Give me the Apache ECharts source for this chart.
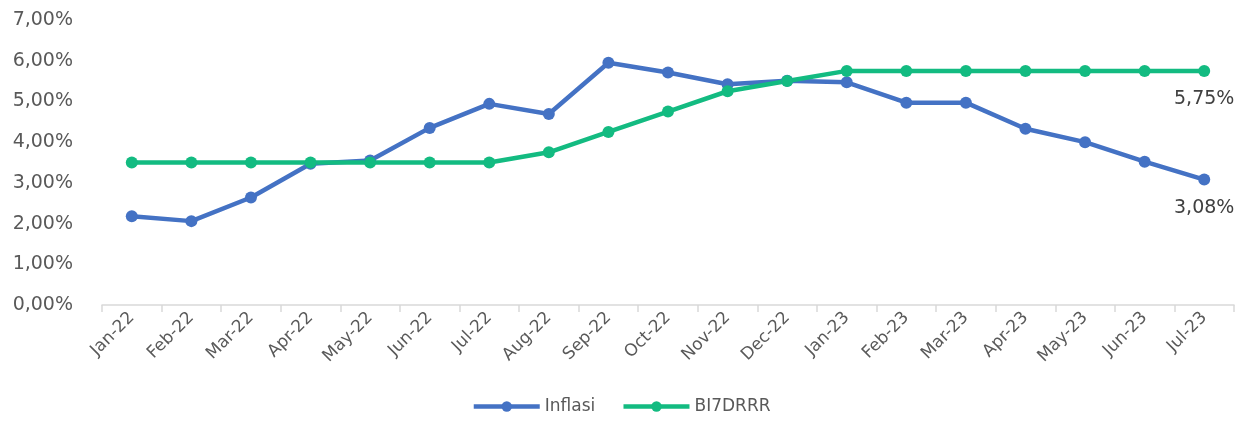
<!DOCTYPE html>
<html>
<head>
<meta charset="utf-8">
<script src="https://cdn.jsdelivr.net/npm/echarts@6/dist/echarts.min.js"></script>
<style>
  html, body { margin: 0; padding: 0; background: #fff; }
  #chart { width: 1242px; height: 421px; }
</style>
</head>
<body>
<div id="chart"></div>
<script>
const months = ["Jan-22", "Feb-22", "Mar-22", "Apr-22", "May-22", "Jun-22", "Jul-22", "Aug-22", "Sep-22",
  "Oct-22", "Nov-22", "Dec-22", "Jan-23", "Feb-23", "Mar-23", "Apr-23", "May-23", "Jun-23", "Jul-23"];
const inflasi = [2.18, 2.06, 2.64, 3.47, 3.55, 4.35, 4.94, 4.69, 5.95, 5.71, 5.42, 5.51, 5.47, 4.97, 4.97, 4.33, 4.00, 3.52, 3.08];
const bi7drrr = [3.50, 3.50, 3.50, 3.50, 3.50, 3.50, 3.50, 3.75, 4.25, 4.75, 5.25, 5.50, 5.75, 5.75, 5.75, 5.75, 5.75, 5.75, 5.75];

const fmt = v => v.toFixed(2).replace(".", ",") + "%";
const font = "DejaVu Sans, Verdana, sans-serif";
const lastOnly = p => p.dataIndex === months.length - 1 ? fmt(p.value) : "";

const chart = echarts.init(document.getElementById("chart"));
chart.setOption({
  animation: false,
  grid: { left: 102, right: 8, top: 20, bottom: 116, containLabel: false },
  legend: {
    bottom: 1, left: "center", itemWidth: 66, itemHeight: 13, itemGap: 26,
    lineStyle: { width: 4.5 },
    textStyle: { color: "#595959", fontSize: 17, fontFamily: font },
    data: ["Inflasi", "BI7DRRR"]
  },
  xAxis: {
    type: "category", data: months, boundaryGap: true,
    axisLine: { lineStyle: { color: "#d9d9d9", width: 1.5 } },
    axisTick: { show: true, length: 7, lineStyle: { color: "#d9d9d9", width: 1.5 } },
    axisLabel: { rotate: 45, color: "#595959", fontSize: 17, fontFamily: font, margin: 10, interval: 0 }
  },
  yAxis: {
    type: "value", min: 0, max: 7, interval: 1,
    splitLine: { show: false },
    axisLine: { show: false },
    axisLabel: { formatter: fmt, color: "#595959", fontSize: 19, fontFamily: font, margin: 29 }
  },
  series: [
    {
      name: "Inflasi", type: "line", data: inflasi,
      symbol: "circle", symbolSize: 12,
      lineStyle: { color: "#4472C4", width: 4.5 },
      itemStyle: { color: "#4472C4" },
      label: { show: true, position: "bottom", distance: 13, formatter: lastOnly,
        color: "#404040", fontSize: 19, fontFamily: font }
    },
    {
      name: "BI7DRRR", type: "line", data: bi7drrr,
      symbol: "circle", symbolSize: 12,
      lineStyle: { color: "#13BB81", width: 4.5 },
      itemStyle: { color: "#13BB81" },
      label: { show: true, position: "bottom", distance: 13, formatter: lastOnly,
        color: "#404040", fontSize: 19, fontFamily: font }
    }
  ]
});
</script>
</body>
</html>
